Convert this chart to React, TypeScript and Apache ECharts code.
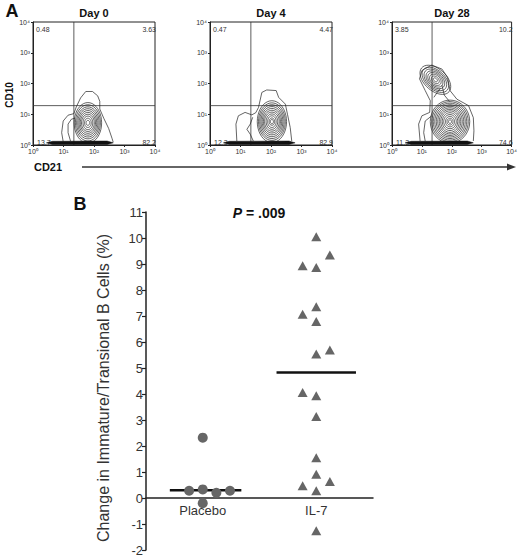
import { useEffect, useRef } from 'react'
import * as echarts from 'echarts'

const FONT = 'Arial, "Liberation Sans", Helvetica, sans-serif'

// ---- panel A: CD21 (x) vs CD10 (y) contour plots, values in log10 units ----
const dayTitles = ['Day 0', 'Day 4', 'Day 28']
const decadeLabels = ['10⁰', '10¹', '10²', '10³', '10⁴']
const gateCD21 = 1.34
const gateCD10 = 1.28
const quadUL = ['0.48', '0.47', '3.85']
const quadUR = ['3.63', '4.47', '10.2']
const quadLL = ['13.7', '12.3', '11.3']
const quadLR = ['82.2', '82.9', '74.6']

// events piled on the CD10 floor: [from, to] along CD21
const floorSmear = [
  [0.44, 2.63],
  [0.44, 2.79],
  [0.44, 2.72]
]

// dense populations: peak [CD21, CD10], tilt (rad) and nested contour radii [rx, ry]
const day0Cores = [
  {
    peak: [1.8, 0.72],
    tilt: 0,
    rings: [[0.45, 0.66], [0.41, 0.59], [0.37, 0.52], [0.33, 0.46], [0.29, 0.4], [0.25, 0.34], [0.21, 0.28], [0.16, 0.22], [0.11, 0.15], [0.06, 0.08]]
  }
]
const day4Cores = [
  {
    peak: [2.03, 0.76],
    tilt: 0,
    rings: [[0.48, 0.68], [0.44, 0.61], [0.4, 0.55], [0.36, 0.49], [0.32, 0.43], [0.28, 0.37], [0.24, 0.31], [0.19, 0.25], [0.14, 0.19], [0.09, 0.12], [0.05, 0.07]]
  }
]
const day28Cores = [
  {
    peak: [1.94, 0.76],
    tilt: 0,
    rings: [[0.66, 0.7], [0.61, 0.65], [0.56, 0.6], [0.51, 0.55], [0.46, 0.5], [0.41, 0.45], [0.36, 0.4], [0.31, 0.35], [0.26, 0.29], [0.21, 0.23], [0.15, 0.17], [0.1, 0.11], [0.05, 0.06]]
  },
  {
    peak: [1.45, 2.12],
    tilt: -0.7,
    rings: [[0.6, 0.36], [0.52, 0.31], [0.44, 0.27], [0.36, 0.23], [0.29, 0.19], [0.22, 0.15], [0.15, 0.1], [0.08, 0.05]]
  }
]
const cores = [day0Cores, day4Cores, day28Cores]

// sparse outer contours, traced as open lines
const day0Outlines = [
  [[0.99, 0.11], [0.94, 0.4], [0.99, 0.78], [1.15, 0.97], [1.34, 1.02], [1.42, 1.24], [1.56, 1.53], [1.73, 1.74], [1.95, 1.74], [2.12, 1.6], [2.19, 1.42], [2.19, 1.17], [2.32, 0.87], [2.48, 0.54], [2.59, 0.22], [2.63, 0.09]],
  [[1.23, 0.13], [1.15, 0.4], [1.15, 0.68], [1.26, 0.84], [1.37, 0.87]]
]
const day4Outlines = [
  [[0.88, 0.13], [0.85, 0.68], [0.93, 0.95], [1.15, 1.06], [1.37, 0.98], [1.5, 1.05], [1.59, 1.22], [1.7, 1.71], [1.86, 1.79], [2.17, 1.77], [2.25, 1.55], [2.47, 1.33], [2.54, 1.0], [2.63, 0.57], [2.68, 0.13]],
  [[1.42, 0.13], [1.32, 0.35], [1.21, 0.51], [1.32, 0.68], [1.4, 0.9]]
]
const day28Outlines = [
  [[0.94, 0.13], [0.89, 0.68], [1.0, 0.95], [1.26, 1.06], [1.28, 1.44], [1.11, 1.77], [0.92, 2.15], [1.0, 2.42], [1.33, 2.6], [1.67, 2.47], [1.86, 2.2], [1.94, 1.77], [2.17, 1.49], [2.56, 1.28], [2.72, 0.89], [2.74, 0.46], [2.72, 0.13]],
  [[1.11, 0.13], [1.06, 0.4], [1.11, 0.78], [1.33, 0.95]],
  [[1.67, 1.95], [1.75, 1.62], [1.92, 1.42]],
  [[1.4, 1.55], [1.52, 1.72], [1.62, 1.85]]
]
const outlines = [day0Outlines, day4Outlines, day28Outlines]

// ---- panel B: change in immature/transitional B cells (%) ----
const groups = ['Placebo', 'IL-7']
// [group position + jitter, value]
const placeboPoints = [[1, 2.32], [0.88, 0.28], [1, 0.33], [1.12, 0.2], [1.24, 0.28], [1, -0.2]]
const il7Points = [
  [2, 10.05], [2.12, 9.35], [1.88, 8.93], [2, 8.87], [2, 7.36], [1.88, 7.07], [2, 6.79],
  [2, 5.54], [2.12, 5.69], [1.88, 4.06], [2, 3.93], [2, 3.13], [2, 1.55], [2, 0.91],
  [1.88, 0.47], [2.12, 0.63], [2, 0.28], [2, -1.26]
]
const medians = [0.3, 4.83]
const medianSpans = [
  [0.71, 1.34],
  [1.65, 2.35]
]

const gridsA = [
  { left: 33, top: 22, width: 122, height: 123 },
  { left: 210, top: 22, width: 122, height: 123 },
  { left: 392, top: 22, width: 120, height: 123 }
]

function contourPanel(i: number) {
  return (_params: any, api: any) => {
    const c = (p: number[]) => api.coord(p)
    const ink = '#222'
    const children: any[] = []
    const g0 = c([gateCD21, 0])
    const g1 = c([gateCD21, 4])
    const h0 = c([0, gateCD10])
    const h1 = c([4, gateCD10])
    children.push({ type: 'line', shape: { x1: g0[0], y1: g0[1], x2: g1[0], y2: g1[1] }, style: { stroke: '#333', lineWidth: 0.8 } })
    children.push({ type: 'line', shape: { x1: h0[0], y1: h0[1], x2: h1[0], y2: h1[1] }, style: { stroke: '#333', lineWidth: 0.8 } })

    cores[i].forEach((core) => {
      const ct = Math.cos(core.tilt)
      const st = Math.sin(core.tilt)
      core.rings.forEach(([rx, ry]) => {
        const pts: number[][] = []
        for (let k = 0; k < 40; k++) {
          const a = (Math.PI * 2 * k) / 40
          const ex = rx * Math.cos(a)
          const ey = ry * Math.sin(a)
          const x = core.peak[0] + ex * ct - ey * st
          const y = Math.max(core.peak[1] + ex * st + ey * ct, 0.1)
          pts.push(c([x, y]))
        }
        children.push({ type: 'polygon', shape: { points: pts }, style: { fill: 'none', stroke: ink, lineWidth: 0.7 } })
      })
    })

    outlines[i].forEach((line) => {
      children.push({ type: 'polyline', shape: { points: line.map(c) }, style: { fill: 'none', stroke: ink, lineWidth: 0.7 } })
    })

    const tl = c([0, 4])
    const br = c([4, 0])
    const label = (text: string, x: number, y: number, align: string) => ({
      type: 'text',
      x,
      y,
      style: { text, fill: '#333', font: `7px ${FONT}`, textAlign: align, align, textVerticalAlign: 'middle', verticalAlign: 'middle' }
    })
    children.push(label(quadUL[i], tl[0] + 3, tl[1] + 7, 'left'))
    children.push(label(quadUR[i], br[0] + 1, tl[1] + 7, 'right'))
    children.push(label(quadLL[i], tl[0] + 4, br[1] - 3, 'left'))
    children.push(label(quadLR[i], br[0] + 1, br[1] - 3, 'right'))

    const [s0, s1] = floorSmear[i]
    const smear = [[s0, 0.07], [s0 + 0.2, 0.12], [s1 - 0.2, 0.13], [s1, 0.07], [s1 - 0.2, 0.02], [s0 + 0.2, 0.02]].map(c)
    children.push({ type: 'polygon', shape: { points: smear }, style: { fill: '#111', stroke: '#111', lineWidth: 0.5 } })

    return { type: 'group', children }
  }
}

export default function App() {
  const chartRef = useRef<HTMLDivElement>(null)

  useEffect(() => {
    document.body.style.margin = '0'
    if (!chartRef.current) return
    const chart = echarts.init(chartRef.current, undefined, { renderer: 'svg' })

    const axisA = {
      type: 'value',
      min: 0,
      max: 4,
      interval: 1,
      axisLine: { show: true, lineStyle: { color: '#222', width: 1 } },
      axisTick: { show: true, length: 2, lineStyle: { color: '#222' } },
      splitLine: { show: false },
      axisLabel: { fontSize: 7, color: '#333', fontFamily: FONT, margin: 3, formatter: (v: number) => decadeLabels[v] }
    }

    const text = (t: string, x: number, y: number, font: string, extra: any = {}, fill = '#111') => ({
      type: 'text',
      x,
      y,
      ...extra,
      style: { text: t, font, fill, textAlign: 'center', align: 'center', textVerticalAlign: 'middle', verticalAlign: 'middle' }
    })

    chart.setOption({
      animation: false,
      grid: [
        ...gridsA.map((g) => ({ ...g, show: true, borderColor: '#222', borderWidth: 1, containLabel: false })),
        { left: 146, top: 212, width: 227, height: 338, containLabel: false }
      ],
      xAxis: [
        ...gridsA.map((_, i) => ({ ...axisA, gridIndex: i })),
        {
          type: 'value',
          gridIndex: 3,
          min: 0.5,
          max: 2.5,
          // sit the axis on y = 0 (2 units of 26px above the bottom)
          offset: -52,
          axisLine: { show: true, onZero: false, lineStyle: { color: '#222', width: 1.5 } },
          axisTick: { show: false },
          splitLine: { show: false },
          axisLabel: {
            customValues: [1, 2],
            formatter: (v: number) => groups[Math.round(v) - 1],
            fontSize: 13,
            color: '#333',
            fontFamily: FONT,
            margin: 6
          }
        }
      ],
      yAxis: [
        ...gridsA.map((_, i) => ({ ...axisA, gridIndex: i })),
        {
          type: 'value',
          gridIndex: 3,
          min: -2,
          max: 11,
          interval: 1,
          axisLine: { show: true, onZero: false, lineStyle: { color: '#222', width: 1.5 } },
          axisTick: { show: true, length: 4, lineStyle: { color: '#222', width: 1.2 } },
          splitLine: { show: false },
          axisLabel: { fontSize: 13, color: '#333', fontFamily: FONT, margin: 3 }
        }
      ],
      series: [
        ...gridsA.map((_, i) => ({
          type: 'custom',
          xAxisIndex: i,
          yAxisIndex: i,
          coordinateSystem: 'cartesian2d',
          clip: false,
          data: [[0, 0]],
          renderItem: contourPanel(i)
        })),
        ...medians.map((m, i) => ({
          type: 'line',
          xAxisIndex: 3,
          yAxisIndex: 3,
          symbol: 'none',
          data: medianSpans[i].map((x) => [x, m]),
          lineStyle: { color: '#111', width: 2.5 },
          z: 3
        })),
        {
          type: 'scatter',
          xAxisIndex: 3,
          yAxisIndex: 3,
          symbol: 'circle',
          symbolSize: 10,
          data: placeboPoints,
          itemStyle: { color: '#666', opacity: 1 },
          z: 4
        },
        {
          type: 'scatter',
          xAxisIndex: 3,
          yAxisIndex: 3,
          symbol: 'triangle',
          symbolSize: [10, 9],
          data: il7Points,
          itemStyle: { color: '#666', opacity: 1 },
          z: 4
        }
      ],
      graphic: [
        text('A', 12, 11, `bold 18px ${FONT}`),
        text('B', 80, 204, `bold 18px ${FONT}`),
        ...dayTitles.map((d, i) => text(d, gridsA[i].left + gridsA[i].width / 2, 13, `bold 11px ${FONT}`)),
        text('CD10', 9, 95, `bold 10px ${FONT}`, { rotation: Math.PI / 2 }),
        text('CD21', 48, 167, `bold 11px ${FONT}`),
        text('Change in Immature/Transional B Cells (%)', 103, 388, `16px ${FONT}`, { rotation: Math.PI / 2 }, '#333'),
        { type: 'line', shape: { x1: 82, y1: 167, x2: 508, y2: 167 }, style: { stroke: '#333', lineWidth: 1.5 } },
        { type: 'polygon', shape: { points: [[507, 163.5], [516, 167], [507, 170.5]] }, style: { fill: '#333' } },
        {
          type: 'text',
          x: 259,
          y: 213,
          style: {
            text: '{i|P} = .009',
            font: `bold 14px ${FONT}`,
            fill: '#111',
            textAlign: 'center',
            align: 'center',
            textVerticalAlign: 'middle',
            verticalAlign: 'middle',
            rich: { i: { fontStyle: 'italic', fontWeight: 'bold', fontSize: 14, fontFamily: FONT, color: '#111' } }
          }
        }
      ]
    })

    return () => {
      chart.dispose()
    }
  }, [])

  return <div ref={chartRef} style={{ width: 520, height: 557 }} />
}
